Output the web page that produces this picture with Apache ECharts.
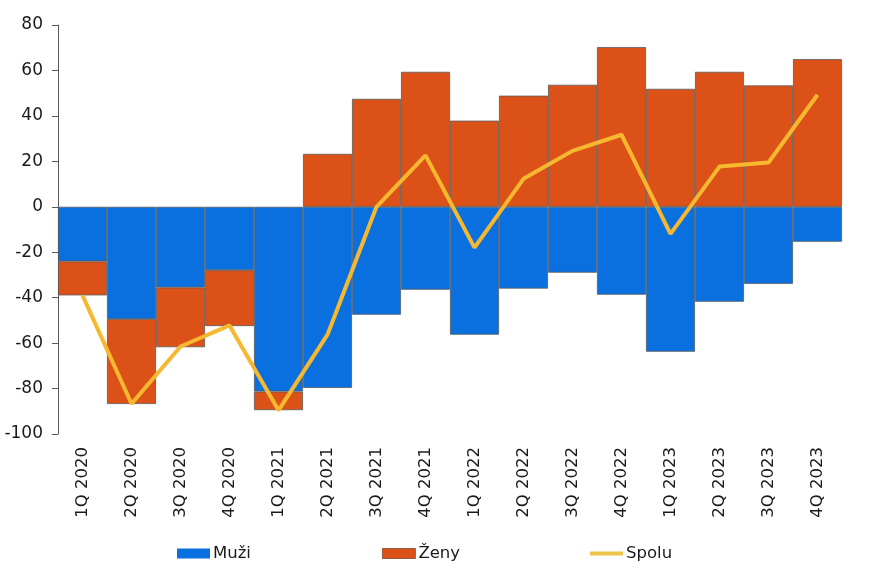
<!DOCTYPE html>
<html>
<head>
<meta charset="utf-8">
<script src="https://cdn.jsdelivr.net/npm/echarts@6/dist/echarts.min.js"></script>
<style>html,body{margin:0;padding:0;background:#fff}#c{width:869px;height:588px}</style>
</head>
<body>
<div id="c"></div>
<script>
const categories = ["1Q 2020","2Q 2020","3Q 2020","4Q 2020","1Q 2021","2Q 2021","3Q 2021","4Q 2021","1Q 2022","2Q 2022","3Q 2022","4Q 2022","1Q 2023","2Q 2023","3Q 2023","4Q 2023"];
const muzi  = [-24,-49.4,-35.5,-27.9,-81.3,-79.7,-47.5,-36.5,-56.3,-36,-29,-38.7,-63.8,-41.8,-33.9,-15.4];
const zeny  = [-15,-37.4,-26.3,-24.6,-8.2,23.3,47.5,59.4,37.9,48.9,53.7,70.3,51.9,59.4,53.4,65];
const spolu = [-39,-86.7,-61.5,-52.2,-89.6,-56.3,0,22.6,-18,12.3,24.6,31.7,-11.9,17.7,19.5,49.3];
const yMin = -100, yMax = 80, yStep = 20;

const font = "'DejaVu Sans', Verdana, sans-serif";
const chart = echarts.init(document.getElementById('c'), null, {renderer: 'canvas'});
const legendBase = {
  top: 545, padding: 0, itemWidth: 33, itemHeight: 10, itemGap: 0,
  textStyle: {fontFamily: font, fontSize: 16.5, color: '#1a1a1a', padding: [0,0,0,-2]}
};
chart.setOption({
  animation: false,
  backgroundColor: '#ffffff',
  grid: {left: 58, right: 27, top: 25, bottom: 154, containLabel: false},
  legend: [
    Object.assign({}, legendBase, {left: 177, data: [{name: 'Muži', icon: 'rect', itemStyle: {borderWidth: 0}}]}),
    Object.assign({}, legendBase, {left: 382, data: [{name: 'Ženy', icon: 'rect', itemStyle: {borderWidth: 0.8, borderColor: '#7a4a30'}}]}),
    Object.assign({}, legendBase, {left: 590, itemHeight: 4, data: [{name: 'Spolu', icon: 'rect'}]})
  ],
  xAxis: {
    type: 'category', data: categories,
    axisLine: {show: false, onZero: false},
    axisTick: {show: false},
    axisLabel: {rotate: 90, fontFamily: font, fontSize: 16.5, color: '#1a1a1a', margin: 13, interval: 0}
  },
  yAxis: {
    type: 'value', min: yMin, max: yMax, interval: yStep,
    axisLine: {show: true, lineStyle: {color: '#595959', width: 1}},
    axisTick: {show: true, length: 6, lineStyle: {color: '#595959'}},
    splitLine: {show: false},
    axisLabel: {fontFamily: font, fontSize: 17, color: '#1a1a1a', margin: 15}
  },
  series: [
    {name: 'Muži', type: 'bar', stack: 's', data: muzi, barCategoryGap: '0%',
     itemStyle: {color: '#0a70e0', borderColor: '#5a5a5a', borderWidth: 0.8}},
    {name: 'Ženy', type: 'bar', stack: 's', data: zeny, barCategoryGap: '0%',
     itemStyle: {color: '#dc5118', borderColor: '#5a5a5a', borderWidth: 0.8}},
    {name: 'Spolu', type: 'line', data: spolu, showSymbol: false, symbol: 'none', z: 5,
     lineStyle: {color: '#f5b82e', width: 4}, itemStyle: {color: '#eec34a'}}
  ]
});
</script>
</body>
</html>
